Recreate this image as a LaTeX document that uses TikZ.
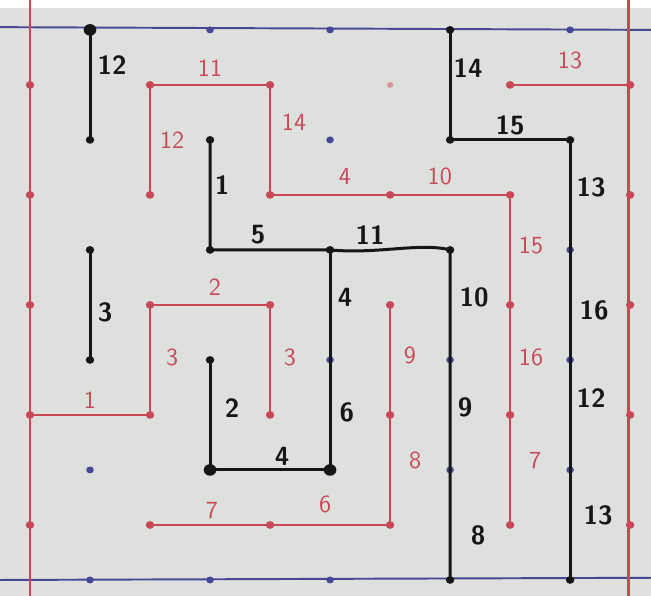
\documentclass[tikz,border=0pt]{standalone}
\usepackage{tikz}
\definecolor{paper}{RGB}{221,224,220}
\definecolor{inkred}{RGB}{200,72,86}
\definecolor{inkblue}{RGB}{70,72,150}
\definecolor{inkblack}{RGB}{22,22,22}

\begin{document}
\begin{tikzpicture}[xscale=1.2,yscale=1.1,
  wall/.style={line width=1.7pt,draw=inkblack,line join=round,line cap=round},
  redwall/.style={line width=1.4pt,draw=inkred,line join=round,line cap=round},
  rule/.style={line width=1.1pt,draw=inkblue},
  blk/.style={font=\sffamily\bfseries\fontsize{15}{15}\selectfont,text=inkblack,inner sep=1pt},
  rd/.style={font=\sffamily\fontsize{14}{14}\selectfont,text=inkred,inner sep=1pt}]
% paper
\fill[white] (-0.5,-0.291) rectangle (10.35,10.545);
\fill[paper] (-0.5,-0.291) rectangle (10.35,10.4);
\useasboundingbox (-0.5,-0.291) rectangle (10.35,10.545);
% grid points
\foreach \i in {1,3,...,9} \foreach \j in {0,2,...,10} \coordinate (b\i-\j) at (\i,\j);
\foreach \i in {0,2,...,10} \foreach \j in {1,3,...,9} \coordinate (r\i-\j) at (\i,\j);
\coordinate (ruleTL) at (-0.5,10.05);
\coordinate (ruleTR) at (10.35,10.0);
\coordinate (ruleBL) at (-0.5,0);
\coordinate (ruleBR) at (10.35,0.04);
\coordinate (marginLT) at (0,10.545);
\coordinate (marginLB) at (0,-0.291);
\coordinate (marginRT) at (9.97,10.545);
\coordinate (marginRB) at (9.97,-0.291);
% ruled lines
\draw[rule] (ruleTL) -- (ruleTR);
\draw[rule] (ruleBL) -- (ruleBR);
\draw[redwall] (marginLT) -- (marginLB);
\draw[redwall] (marginRT) -- (marginRB);
% faint grid dots
\foreach \p in {b3-10,b5-10,b9-10,b1-0,b3-0,b5-0,b5-8,b1-2,b5-4,b7-4,b7-2,b9-6,b9-4,b9-2}
  \fill[inkblue] (\p) circle (1.8pt);
\fill[inkred!60] (r6-9) circle (1.5pt);
% red walls
\draw[redwall] (r2-7) -- (r2-9) -- (r4-9) -- (r4-7) -- (r8-7) -- (r8-1);
\draw[redwall] (r8-9) -- (r10-9);
\draw[redwall] (r0-3) -- (r2-3) -- (r2-5) -- (r4-5) -- (r4-3);
\draw[redwall] (r6-5) -- (r6-1) -- (r2-1);
\foreach \p in {r0-9,r0-7,r0-5,r0-3,r0-1,r2-9,r2-7,r2-5,r2-3,r2-1,r4-9,r4-7,r4-5,r4-3,r4-1,
  r6-7,r6-5,r6-3,r6-1,r8-9,r8-7,r8-5,r8-3,r8-1,r10-9,r10-7,r10-5,r10-3,r10-1}
  \fill[inkred] (\p) circle (2pt);
% black walls
\draw[wall] (b1-10) -- (b1-8);
\draw[wall] (b3-8) -- (b3-6) -- (b5-6) .. controls (5.8,5.92) and (6.5,6.14) .. (b7-6) -- (b7-0);
\draw[wall] (b5-6) -- (b5-2) -- (b3-2) -- (b3-4);
\draw[wall] (b1-6) -- (b1-4);
\draw[wall] (b7-10) -- (b7-8) -- (b9-8) -- (b9-0);
\foreach \p in {b1-8,b3-8,b3-6,b5-6,b7-6,b1-6,b1-4,b3-4,b7-10,b7-8,b9-8,b7-0,b9-0}
  \fill[inkblack] (\p) circle (2pt);
\fill[inkblack] (b1-10) circle (3pt);
\fill[inkblack] (b3-2) circle (3pt);
\fill[inkblack] (b5-2) circle (3pt);
% black labels
\node[blk] (k12) at (1.37,9.36) {12};
\node[blk] (k1) at (3.2,7.18) {1};
\node[blk] (k5) at (3.8,6.27) {5};
\node[blk] (k11) at (5.67,6.27) {11};
\node[blk] (k4) at (5.25,5.13) {4};
\node[blk] (k6) at (5.28,3.05) {6};
\node[blk] (k10) at (7.4,5.13) {10};
\node[blk] (k9) at (7.25,3.13) {9};
\node[blk] (k8) at (7.47,0.82) {8};
\node[blk] (k2) at (3.37,3.13) {2};
\node[blk] (k4b) at (4.2,2.25) {4};
\node[blk] (k3) at (1.25,4.87) {3};
\node[blk] (k14) at (7.3,9.31) {14};
\node[blk] (k15) at (8.0,8.27) {15};
\node[blk] (k13) at (9.35,7.13) {13};
\node[blk] (k16) at (9.4,4.9) {16};
\node[blk] (k12b) at (9.35,3.31) {12};
\node[blk] (k13b) at (9.47,1.18) {13};
% red labels
\node[rd] (s11) at (3.0,9.31) {11};
\node[rd] (s12) at (2.37,8.0) {12};
\node[rd] (s14) at (4.4,8.33) {14};
\node[rd] (s4) at (5.25,7.33) {4};
\node[rd] (s10) at (6.83,7.33) {10};
\node[rd] (s15) at (8.35,6.09) {15};
\node[rd] (s16) at (8.35,4.04) {16};
\node[rd] (s7) at (8.42,2.18) {7};
\node[rd] (s13) at (9.0,9.45) {13};
\node[rd] (s9) at (6.33,4.09) {9};
\node[rd] (s8) at (6.42,2.18) {8};
\node[rd] (s6) at (4.92,1.38) {6};
\node[rd] (s7b) at (3.03,1.27) {7};
\node[rd] (s3) at (2.37,4.04) {3};
\node[rd] (s3b) at (4.33,4.04) {3};
\node[rd] (s2) at (3.08,5.33) {2};
\node[rd] (s1) at (1.0,3.27) {1};
\end{tikzpicture}
\end{document}
